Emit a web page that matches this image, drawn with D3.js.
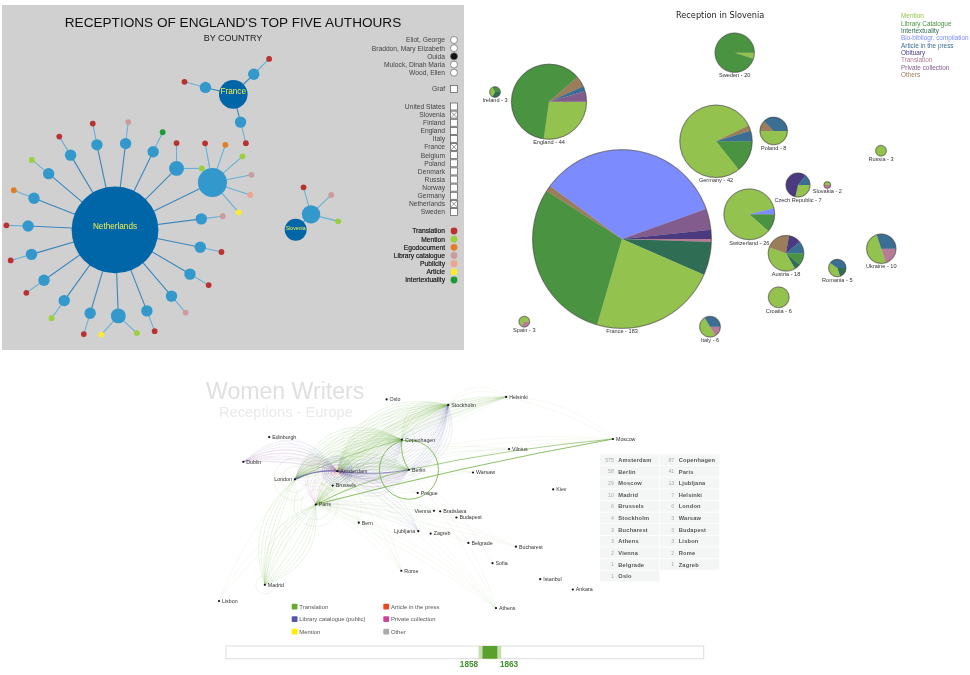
<!DOCTYPE html>
<html>
<head>
<meta charset="utf-8">
<title>Women writers receptions</title>
<script src="https://cdn.jsdelivr.net/npm/d3@7"></script>
<style>
  html, body { margin: 0; padding: 0; background: #fff; }
  svg { display: block; font-family: "Liberation Sans", Arial, sans-serif; filter: blur(0.45px); }
</style>
</head>
<body>
<svg id="chart" width="970" height="675"></svg>
<script>
// ---- top left: network of receptions by country ----
const authors = ["Eliot, George", "Braddon, Mary Elizabeth", "Ouida", "Mulock, Dinah Maria", "Wood, Ellen"];
const selectedAuthor = "Ouida";
const countries = ["United States", "Slovenia", "Finland", "England", "Italy", "France", "Belgium", "Poland", "Denmark", "Russia", "Norway", "Germany", "Netherlands", "Sweden"];
const checkedCountries = ["Slovenia", "France", "Netherlands"];
const netTypes = ["Translation", "Mention", "Egodocument", "Library catalogue", "Publicity", "Article", "Intertextuality"];
const netTypeColors = ["#b83330", "#9bcf3c", "#e17f24", "#cb9c9c", "#eea58e", "#fbec32", "#1f9b33"];

const hubNames = ["Netherlands", "France", "Slovenia"];
const hubSizes = [58, 6.3, 3.7];
// hub places, percent of the panel
const hubLeft = [24.46, 50.06, 63.57];
const hubTop = [65.2, 25.9, 65.13];

// one spoke per edition; angles are degrees clockwise from north
const spokeHub = [0, 0, 0, 0, 0, 0, 0, 0, 0, 0, 0, 0, 0, 0, 0, 0, 0, 0, 0, 1, 1, 1, 2];
const spokeAngle = [348, 7, 26, 45, 64, 82.7, 101.5, 120.5, 139.5, 158.5, 177.8, 196.6, 215.7, 234.7, 253.7, 272.6, 291.4, 310.3, 329.3, 45.5, 284, 165.3, 45];
const spokeLength = [87, 87, 87, 87, 108.4, 87, 87, 87, 87, 87, 86, 87, 87, 87, 87, 87, 87, 87, 87, 28.7, 28.7, 28.7, 21.7];
const spokeSize = [1, 1, 1, 1.7, 6.5, 1, 1, 1, 1, 1, 1.7, 1, 1, 1, 1, 1, 1, 1, 1, 1, 1, 1, 2.6];
const leafKinds = [
  ["Translation"], ["Library catalogue"], ["Intertextuality"], ["Translation", "Mention"],
  ["Translation", "Egodocument", "Mention", "Library catalogue", "Publicity", "Article"],
  ["Library catalogue"], ["Translation"], ["Translation"], ["Library catalogue"], ["Translation"],
  ["Article", "Mention"], ["Translation"], ["Mention"], ["Translation"], ["Translation"], ["Translation"],
  ["Egodocument"], ["Mention"], ["Translation"], ["Translation"], ["Translation"], ["Translation"],
  ["Translation", "Library catalogue", "Mention"]
];
const leafAngle = [[349], [7], [26], [0, 90], [349.4, 19, 49, 79, 108.4, 138.7], [83], [102.5], [120.5], [139.3], [159], [222.3, 132.9], [197], [215.6], [234.4], [253.8], [271.7], [291.5], [309.4], [328.7], [45], [285], [165.8], [344.5, 46, 104.5]];
const leafLength = [21.7, 21.7, 21.7, 25.3, 39.8, 21.7, 21.7, 21.7, 21.7, 21.7, 25.3, 21.7, 21.7, 21.7, 21.7, 21.7, 21.7, 21.7, 21.7, 21.7, 21.7, 21.7, 28];

// ---- top right: pies of reception in Slovenia ----
const pieTypes = ["Mention", "Library Catalogue", "Intertextuality", "Bio-bibliogr. compilation", "Article in the press", "Obituary", "Translation", "Private collection", "Others"];
const pieColors = ["#94c24e", "#4a9340", "#2f6e55", "#7c8cff", "#3a6f93", "#4c3a80", "#b87a94", "#835c8e", "#9c7d5a"];
const pieNames = ["France", "England", "Ireland", "Spain", "Italy", "Sweden", "Germany", "Poland", "Russia", "Slovakia", "Czech Republic", "Switzerland", "Austria", "Romania", "Ukraine", "Croatia"];
// slices run clockwise from three o'clock
const pieSlices = [
  [["Translation", 1], ["Intertextuality", 11], ["Mention", 42], ["Library Catalogue", 54], ["Others", 2], ["Bio-bibliogr. compilation", 63], ["Private collection", 7], ["Obituary", 3]],
  [["Mention", 12], ["Library Catalogue", 27], ["Others", 2], ["Article in the press", 1], ["Private collection", 2]],
  [["Intertextuality", 1], ["Mention", 1], ["Library Catalogue", 1]],
  [["Translation", 1], ["Mention", 2]],
  [["Translation", 1], ["Mention", 3], ["Article in the press", 2]],
  [["Mention", 1], ["Library Catalogue", 19]],
  [["Library Catalogue", 6], ["Mention", 33], ["Others", 1], ["Article in the press", 2]],
  [["Mention", 4], ["Others", 1], ["Article in the press", 3]],
  [["Mention", 3]],
  [["Translation", 1], ["Mention", 1]],
  [["Mention", 2], ["Obituary", 4], ["Article in the press", 1]],
  [["Library Catalogue", 3], ["Mention", 22], ["Bio-bibliogr. compilation", 1]],
  [["Library Catalogue", 2], ["Intertextuality", 1], ["Mention", 7], ["Others", 4], ["Obituary", 2], ["Article in the press", 2]],
  [["Intertextuality", 1], ["Mention", 2], ["Article in the press", 2]],
  [["Translation", 2], ["Mention", 5], ["Article in the press", 3]],
  [["Mention", 6]]
];
// bubble places, percent of the panel
const bubbleLeft = [30.4, 15.8, 5, 10.86, 48, 52.94, 49.2, 60.74, 82.2, 71.46, 65.6, 55.86, 63.2, 73.46, 82.26, 61.74];
const bubbleTop = [68.29, 29.06, 26.29, 91.91, 93.34, 15.06, 40.37, 37.43, 43.06, 52.86, 52.86, 61.23, 72.37, 76.57, 71.06, 84.94];
const radiusCounts = [2, 3, 6, 8, 10, 18, 26, 44, 183];
const radiusPixels = [3.3, 5.3, 10.3, 13.7, 14.7, 17.7, 25.3, 37.5, 89.3];

// ---- bottom: map of receptions in Europe ----
const cityNames = ["Oslo", "Stockholm", "Helsinki", "Moscow", "Edinburgh", "Dublin", "Copenhagen", "Vilnius", "Amsterdam", "Berlin", "Warsaw", "London", "Brussels", "Prague", "Kiev", "Paris", "Vienna", "Bratislava", "Budapest", "Bern", "Ljubljana", "Zagreb", "Belgrade", "Bucharest", "Sofia", "Rome", "Istanbul", "Ankara", "Madrid", "Lisbon", "Athens"];
const cityLon = [10.75, 18.07, 24.94, 37.62, -3.19, -6.26, 12.57, 25.28, 4.9, 13.4, 21.01, -0.13, 4.35, 14.44, 30.52, 2.35, 16.37, 17.11, 19.04, 7.45, 14.51, 15.98, 20.46, 26.1, 23.32, 12.5, 28.98, 32.85, -3.7, -9.14, 23.73];
const cityLat = [59.91, 59.33, 60.17, 55.75, 55.95, 53.35, 55.68, 54.69, 52.37, 52.52, 52.23, 51.51, 50.85, 50.08, 50.45, 48.86, 48.21, 48.15, 47.5, 46.95, 46.06, 45.81, 44.82, 44.43, 42.7, 41.9, 41.01, 39.93, 40.42, 38.72, 37.98];
const labelsOnLeft = ["London", "Vienna", "Ljubljana"];

const linkTypes = ["Translation", "Library catalogue (public)", "Mention", "Article in the press", "Private collection", "Other"];
const linkColors = ["#66aa33", "#5555aa", "#ffee00", "#ee4422", "#cc4499", "#aaaaaa"];

// from, to, type, number of strands
const fannedLinks = [
  ["London", "Copenhagen", "Translation", 10], ["Amsterdam", "Copenhagen", "Translation", 8], ["Paris", "Copenhagen", "Translation", 8],
  ["London", "Stockholm", "Translation", 6], ["Amsterdam", "Stockholm", "Translation", 10], ["Paris", "Stockholm", "Translation", 5],
  ["London", "Berlin", "Translation", 6], ["Paris", "Berlin", "Translation", 6], ["Amsterdam", "Berlin", "Translation", 4],
  ["Copenhagen", "Stockholm", "Translation", 5], ["Berlin", "Copenhagen", "Translation", 2], ["London", "Amsterdam", "Translation", 5],
  ["Madrid", "Paris", "Translation", 5], ["Paris", "Madrid", "Translation", 5], ["Madrid", "London", "Translation", 5], ["London", "Madrid", "Translation", 3],
  ["Lisbon", "Paris", "Translation", 2], ["Lisbon", "London", "Translation", 1],
  ["Amsterdam", "Helsinki", "Translation", 6], ["London", "Helsinki", "Translation", 3], ["Paris", "Helsinki", "Translation", 3],
  ["Helsinki", "Moscow", "Translation", 2], ["Copenhagen", "Helsinki", "Translation", 2], ["Stockholm", "Helsinki", "Translation", 3],
  ["Amsterdam", "Moscow", "Translation", 3], ["Paris", "Vilnius", "Translation", 2], ["Amsterdam", "Vilnius", "Translation", 2],
  ["Paris", "Budapest", "Translation", 2], ["Paris", "Vienna", "Translation", 2], ["Paris", "Bucharest", "Translation", 3], ["Paris", "Belgrade", "Translation", 2],
  ["Paris", "Athens", "Translation", 3], ["Paris", "Rome", "Translation", 3], ["Paris", "Bern", "Translation", 3], ["Amsterdam", "Bern", "Translation", 2],
  ["Amsterdam", "Athens", "Translation", 3], ["Berlin", "Athens", "Translation", 2], ["Berlin", "Sofia", "Translation", 1], ["Amsterdam", "Rome", "Translation", 2],
  ["Amsterdam", "Warsaw", "Translation", 2], ["Paris", "Prague", "Translation", 2], ["Amsterdam", "Prague", "Translation", 2], ["Paris", "Warsaw", "Translation", 2],
  ["Dublin", "Amsterdam", "Library catalogue (public)", 8], ["Edinburgh", "Amsterdam", "Library catalogue (public)", 2],
  ["Stockholm", "Amsterdam", "Library catalogue (public)", 16], ["Stockholm", "Berlin", "Library catalogue (public)", 6],
  ["Copenhagen", "Amsterdam", "Library catalogue (public)", 8], ["Berlin", "Amsterdam", "Library catalogue (public)", 8],
  ["London", "Amsterdam", "Library catalogue (public)", 6], ["Amsterdam", "London", "Library catalogue (public)", 2],
  ["Paris", "Ljubljana", "Library catalogue (public)", 3], ["Amsterdam", "Ljubljana", "Library catalogue (public)", 4],
  ["Paris", "Amsterdam", "Private collection", 7], ["Dublin", "Amsterdam", "Private collection", 4], ["London", "Amsterdam", "Private collection", 2], ["Berlin", "Amsterdam", "Private collection", 4]
];
const directLinks = [
  ["Paris", "Moscow", "Translation", 4], ["Berlin", "Moscow", "Translation", 3], ["Paris", "Berlin", "Translation", 3], ["London", "Copenhagen", "Translation", 2],
  ["Berlin", "Copenhagen", "Translation", 4], ["London", "Amsterdam", "Library catalogue (public)", 5], ["Berlin", "Amsterdam", "Library catalogue (public)", 3]
];
// a city's receptions inside itself: city, type, count
const selfLoops = [
  ["Berlin", "Translation", 59], ["Copenhagen", "Translation", 26], ["Paris", "Translation", 44], ["Paris", "Translation", 30], ["London", "Translation", 42], ["London", "Translation", 26], ["Madrid", "Translation", 18], ["Amsterdam", "Translation", 40],
  ["Amsterdam", "Library catalogue (public)", 30], ["Amsterdam", "Library catalogue (public)", 26], ["Amsterdam", "Library catalogue (public)", 22], ["Amsterdam", "Library catalogue (public)", 18], ["Amsterdam", "Library catalogue (public)", 14],
  ["Amsterdam", "Private collection", 12], ["Amsterdam", "Private collection", 8], ["Amsterdam", "Article in the press", 6]
];

const tableLeft = [["Amsterdam", 575], ["Berlin", 58], ["Moscow", 29], ["Madrid", 10], ["Brussels", 6], ["Stockholm", 4], ["Bucharest", 3], ["Athens", 3], ["Vienna", 2], ["Belgrade", 1], ["Oslo", 1]];
const tableRight = [["Copenhagen", 87], ["Paris", 41], ["Ljubljana", 13], ["Helsinki", 7], ["London", 6], ["Warsaw", 3], ["Budapest", 3], ["Lisbon", 3], ["Rome", 2], ["Zagreb", 1]];

const selectedYears = [1858, 1863];
const yearDomain = [1771, 1933];

const svg = d3.select("#chart");

drawNetwork(svg.append("g"));
drawPies(svg.append("g"));
drawMap(svg.append("g"));

function drawNetwork(g) {
  g.append("rect").attr("x", 2).attr("y", 5).attr("width", 462).attr("height", 345).attr("fill", "#d0d0d0");

  g.append("text").attr("x", 233).attr("y", 27).attr("text-anchor", "middle")
    .attr("font-size", 13.6).attr("fill", "#111").text("RECEPTIONS OF ENGLAND'S TOP FIVE AUTHOURS");
  g.append("text").attr("x", 233).attr("y", 40.5).attr("text-anchor", "middle")
    .attr("font-size", 9).attr("fill", "#222").text("BY COUNTRY");

  const left = d3.scaleLinear([0, 100], [2, 464]);
  const top = d3.scaleLinear([0, 100], [5, 350]);
  const radius = d3.scaleSqrt([0, 1], [0, 5.7]);
  const leafRadius = 2.9;

  const hubs = hubNames.map((name, i) => ({ name, x: left(hubLeft[i]), y: top(hubTop[i]), r: radius(hubSizes[i]) }));
  const spokes = spokeAngle.map((angle, i) => {
    const hub = hubs[spokeHub[i]];
    const p = d3.pointRadial(angle * Math.PI / 180, spokeLength[i]);
    const spoke = { hub, x: hub.x + p[0], y: hub.y + p[1], r: radius(spokeSize[i]) };
    spoke.leaves = leafKinds[i].map((kind, j) => {
      const q = d3.pointRadial(leafAngle[i][j] * Math.PI / 180, leafLength[i]);
      return { kind, x: spoke.x + q[0], y: spoke.y + q[1] };
    });
    return spoke;
  });
  const leaves = spokes.flatMap(s => s.leaves.map(l => ({ ...l, parent: s })));

  g.selectAll(".hub-link").data(spokes).join("line").attr("class", "hub-link")
    .attr("x1", d => d.hub.x).attr("y1", d => d.hub.y).attr("x2", d => d.x).attr("y2", d => d.y)
    .attr("stroke", "#3a87bd").attr("stroke-width", 1.1);
  g.selectAll(".leaf-link").data(leaves).join("line").attr("class", "leaf-link")
    .attr("x1", d => d.parent.x).attr("y1", d => d.parent.y).attr("x2", d => d.x).attr("y2", d => d.y)
    .attr("stroke", "#66b0d8").attr("stroke-width", 1.1);

  g.selectAll(".leaf").data(leaves).join("circle").attr("class", "leaf")
    .attr("cx", d => d.x).attr("cy", d => d.y).attr("r", leafRadius)
    .attr("fill", d => netTypeColors[netTypes.indexOf(d.kind)]);
  g.selectAll(".spoke").data(spokes).join("circle").attr("class", "spoke")
    .attr("cx", d => d.x).attr("cy", d => d.y).attr("r", d => d.r).attr("fill", "#3399cc");
  g.selectAll(".hub").data(hubs).join("circle").attr("class", "hub")
    .attr("cx", d => d.x).attr("cy", d => d.y).attr("r", d => d.r).attr("fill", "#0066a8");
  g.selectAll(".hub-label").data(hubs).join("text").attr("class", "hub-label")
    .attr("x", d => d.x).attr("y", d => d.y).attr("dy", d => d.name == "Slovenia" ? 0 : -0.5)
    .attr("text-anchor", "middle").attr("font-size", d => d.name == "Slovenia" ? 5.2 : 8.2)
    .attr("fill", "#f2ee50").text(d => d.name);

  // side controls
  const labelX = 445, markX = 454;
  const authorY = d3.scaleLinear([0, 4], [40, 72.7]);
  const countryY = d3.scaleLinear([0, 13], [106.5, 212]);
  const typeY = d3.scaleLinear([0, 6], [231, 280]);

  const sideText = (sel, yFn) => sel.join("text").attr("x", labelX).attr("y", yFn).attr("dy", "0.35em")
    .attr("text-anchor", "end").attr("font-size", 6.7).attr("fill", "#444").text(d => d);

  sideText(g.selectAll(".author").data(authors), (d, i) => authorY(i)).attr("class", "author");
  g.selectAll(".radio").data(authors).join("circle").attr("class", "radio")
    .attr("cx", markX).attr("cy", (d, i) => authorY(i)).attr("r", 3.5)
    .attr("fill", d => d == selectedAuthor ? "#111" : "#fff").attr("stroke", "#666").attr("stroke-width", 0.7);

  sideText(g.selectAll(".graf").data(["Graf"]), 89).attr("class", "graf");
  const box = (sel, yFn) => sel.join("rect").attr("x", markX - 3.5).attr("y", (d, i) => yFn(d, i) - 3.5)
    .attr("width", 7).attr("height", 7).attr("fill", "#fff").attr("stroke", "#555").attr("stroke-width", 0.7);
  box(g.selectAll(".graf-box").data(["Graf"]), () => 89).attr("class", "graf-box");

  sideText(g.selectAll(".country").data(countries), (d, i) => countryY(i)).attr("class", "country");
  box(g.selectAll(".country-box").data(countries), (d, i) => countryY(i)).attr("class", "country-box");
  checkedCountries.forEach(name => {
    const y = countryY(countries.indexOf(name));
    const cross = d3.path();
    cross.moveTo(markX - 3, y - 3); cross.lineTo(markX + 3, y + 3);
    cross.moveTo(markX + 3, y - 3); cross.lineTo(markX - 3, y + 3);
    g.append("path").attr("d", cross).attr("stroke", "#555").attr("stroke-width", 0.6).attr("fill", "none");
  });

  sideText(g.selectAll(".type").data(netTypes), (d, i) => typeY(i)).attr("class", "type")
    .attr("fill", "#111").attr("stroke", "#111").attr("stroke-width", 0.15);
  g.selectAll(".type-dot").data(netTypes).join("circle").attr("class", "type-dot")
    .attr("cx", markX).attr("cy", (d, i) => typeY(i)).attr("r", 3.4).attr("fill", (d, i) => netTypeColors[i]);
}

function drawPies(g) {
  g.append("text").attr("x", 676).attr("y", 18).attr("font-family", "DejaVu Sans")
    .attr("font-size", 8.2).attr("fill", "#222").text("Reception in Slovenia");

  const legendY = d3.scaleLinear([0, 8], [16, 75]);
  g.selectAll(".pie-legend").data(pieTypes).join("text").attr("class", "pie-legend")
    .attr("x", 901).attr("y", (d, i) => legendY(i)).attr("dy", "0.35em").attr("font-size", 6.4)
    .attr("fill", (d, i) => pieColors[i]).text(d => d);

  const left = d3.scaleLinear([0, 100], [470, 970]);
  const top = d3.scaleLinear([0, 100], [0, 350]);
  const radius = d3.scaleLinear(radiusCounts, radiusPixels);
  const color = d3.scaleOrdinal(pieTypes, pieColors);
  const pie = d3.pie().sort(null).value(d => d[1]).startAngle(Math.PI / 2).endAngle(Math.PI * 2.5);

  pieNames.forEach((name, i) => {
    const total = d3.sum(pieSlices[i], d => d[1]);
    const r = radius(total);
    const cell = g.append("g").attr("transform", `translate(${left(bubbleLeft[i])},${top(bubbleTop[i])})`);
    const arc = d3.arc().innerRadius(0).outerRadius(r);
    cell.append("circle").attr("r", r + 0.8).attr("fill", "#ccc");
    cell.selectAll("path").data(pie(pieSlices[i])).join("path")
      .attr("d", arc).attr("fill", d => color(d.data[0]));
    cell.append("circle").attr("r", r).attr("fill", "none").attr("stroke", "#333").attr("stroke-width", 0.5);
    cell.append("text").attr("y", r + 5).attr("text-anchor", "middle").attr("font-size", 5.6)
      .attr("fill", "#333").text(`${name} - ${total}`);
  });
}

function drawMap(g) {
  g.append("text").attr("x", 206).attr("y", 399).attr("font-size", 23.1).attr("fill", "#e0e0e0").text("Women Writers");
  g.append("text").attr("x", 219).attr("y", 417).attr("font-size", 14.7).attr("fill", "#eaeaea").text("Receptions - Europe");

  const lon = d3.scaleLinear([-9.14, 37.62], [219, 613]);
  const lat = d3.scaleLinear([38.72, 55.75], [601, 439]);
  const where = name => {
    const i = cityNames.indexOf(name);
    return [lon(cityLon[i]), lat(cityLat[i])];
  };
  const color = d3.scaleOrdinal(linkTypes, linkColors);
  const loopRadius = d3.scaleLinear([0, 59], [0, 29.5]);

  // sag is how far the middle of the curve leaves the straight line
  const curve = (from, to, sag) => {
    const [x0, y0] = where(from), [x1, y1] = where(to);
    const len = Math.hypot(x1 - x0, y1 - y0);
    const path = d3.path();
    path.moveTo(x0, y0);
    path.quadraticCurveTo((x0 + x1) / 2 + (y1 - y0) / len * 2 * sag, (y0 + y1) / 2 - (x1 - x0) / len * 2 * sag, x1, y1);
    return path.toString();
  };

  const strands = fannedLinks.flatMap(([from, to, type, count]) => {
    const reach = Math.min(44, 8 + 2.2 * count);
    return d3.range(count).map(i => ({ from, to, type, count, sag: 2 + reach * (i + 0.5) / count }));
  });
  g.append("g").selectAll("path").data(strands).join("path")
    .attr("d", d => curve(d.from, d.to, d.sag)).attr("fill", "none")
    .attr("stroke", d => color(d.type)).attr("stroke-width", 0.6)
    .attr("stroke-opacity", d => d.count <= 3 ? 0.1 : (d.type == "Translation" ? 0.22 : 0.18));

  g.append("g").selectAll("path").data(directLinks).join("path")
    .attr("d", d => curve(d[0], d[1], 3)).attr("fill", "none")
    .attr("stroke", d => color(d[2])).attr("stroke-width", d => 0.25 * d[3]).attr("stroke-opacity", 0.75);

  g.append("g").selectAll("circle").data(selfLoops).join("circle")
    .attr("cx", d => where(d[0])[0]).attr("cy", d => where(d[0])[1]).attr("r", d => loopRadius(d[2]))
    .attr("fill", "none").attr("stroke", d => color(d[1])).attr("stroke-width", d => d[0] == "Berlin" ? 0.9 : 0.7)
    .attr("stroke-opacity", d => d[0] == "Berlin" ? 0.85 : (d[1] == "Translation" ? 0.15 : 0.3));

  g.append("g").selectAll("circle").data(cityNames).join("circle")
    .attr("cx", d => where(d)[0]).attr("cy", d => where(d)[1]).attr("r", 1.1).attr("fill", "#111");
  g.append("g").selectAll("text").data(cityNames).join("text")
    .attr("x", d => where(d)[0] + (labelsOnLeft.includes(d) ? -3 : 3)).attr("y", d => where(d)[1]).attr("dy", "0.35em")
    .attr("text-anchor", d => labelsOnLeft.includes(d) ? "end" : "start")
    .attr("font-size", 5.3).attr("fill", "#333").text(d => d);

  // counts table
  const rowY = d3.scaleLinear([0, 1], [454.3, 465.93]);
  [[tableLeft, 600, 614, 618.3], [tableRight, 660, 674.3, 678.7]].forEach(([rows, x0, numX, nameX]) => {
    const col = g.append("g");
    col.selectAll("rect").data(rows).join("rect").attr("x", x0).attr("y", (d, i) => rowY(i))
      .attr("width", 59.3).attr("height", 10.9).attr("fill", "#f4f6f6");
    col.selectAll(".num").data(rows).join("text").attr("class", "num")
      .attr("x", numX).attr("y", (d, i) => rowY(i) + 5.6).attr("dy", "0.35em").attr("text-anchor", "end")
      .attr("font-size", 5.3).attr("fill", "#aaa").text(d => d[1]);
    col.selectAll(".name").data(rows).join("text").attr("class", "name")
      .attr("x", nameX).attr("y", (d, i) => rowY(i) + 5.6).attr("dy", "0.35em")
      .attr("font-size", 5.7).attr("font-weight", "bold").attr("letter-spacing", 0.2).attr("fill", "#555").text(d => d[0]);
  });

  // type legend
  const keyY = d3.scaleLinear([0, 2], [606.7, 631.7]);
  const keys = g.append("g").selectAll("g").data(linkTypes).join("g")
    .attr("transform", (d, i) => `translate(${i < 3 ? 291.7 : 383.3},${keyY(i % 3)})`);
  keys.append("rect").attr("x", 0).attr("y", -2.9).attr("width", 5.8).attr("height", 5.8).attr("rx", 1).attr("fill", d => color(d));
  keys.append("text").attr("x", 7.6).attr("dy", "0.35em").attr("font-size", 5.9).attr("fill", "#555").text(d => d);

  // year slider
  const year = d3.scaleLinear(yearDomain, [226, 703.7]);
  const barY = 646, barH = 12.7;
  g.append("rect").attr("x", 226).attr("y", barY).attr("width", 477.7).attr("height", barH)
    .attr("fill", "#fff").attr("stroke", "#ddd").attr("stroke-width", 1);
  g.append("rect").attr("x", year(selectedYears[0]) - 4).attr("y", barY).attr("width", year(selectedYears[1]) - year(selectedYears[0]) + 8).attr("height", barH).attr("fill", "#c5dfb0");
  g.append("rect").attr("x", year(selectedYears[0])).attr("y", barY).attr("width", year(selectedYears[1]) - year(selectedYears[0])).attr("height", barH).attr("fill", "#5aa02c");
  g.selectAll(".year").data(selectedYears).join("text").attr("class", "year")
    .attr("x", (d, i) => year(d) + (i ? 11.7 : -13.6)).attr("y", 664.5).attr("dy", "0.35em").attr("text-anchor", "middle")
    .attr("font-size", 8.2).attr("font-weight", "bold").attr("fill", "#3d8f2d").text(d => d);
}
</script>
</body>
</html>
